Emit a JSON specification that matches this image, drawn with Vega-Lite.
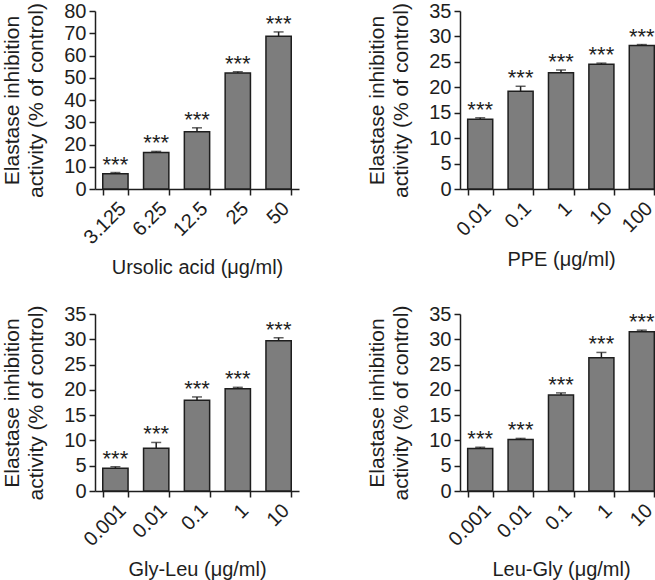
{
  "$schema": "https://vega.github.io/schema/vega-lite/v6.json",
  "background": "white",
  "padding": {"left": 1, "top": 1, "right": 0, "bottom": 1},
  "datasets": {
    "bars": [
      {"panel": "ua", "dose": "3.125", "value": 6.9, "upper": 7.4},
      {"panel": "ua", "dose": "6.25", "value": 16.4, "upper": 16.9},
      {"panel": "ua", "dose": "12.5", "value": 25.7, "upper": 27.5},
      {"panel": "ua", "dose": "25", "value": 52.1, "upper": 52.7},
      {"panel": "ua", "dose": "50", "value": 68.6, "upper": 70.6},
      {"panel": "ppe", "dose": "0.01", "value": 13.7, "upper": 14.0},
      {"panel": "ppe", "dose": "0.1", "value": 19.2, "upper": 20.2},
      {"panel": "ppe", "dose": "1", "value": 22.85, "upper": 23.4},
      {"panel": "ppe", "dose": "10", "value": 24.55, "upper": 24.75},
      {"panel": "ppe", "dose": "100", "value": 28.2, "upper": 28.4},
      {"panel": "gl", "dose": "0.001", "value": 4.5, "upper": 4.8},
      {"panel": "gl", "dose": "0.01", "value": 8.45, "upper": 9.6},
      {"panel": "gl", "dose": "0.1", "value": 17.95, "upper": 18.6},
      {"panel": "gl", "dose": "1", "value": 20.2, "upper": 20.5},
      {"panel": "gl", "dose": "10", "value": 29.7, "upper": 30.3},
      {"panel": "lg", "dose": "0.001", "value": 8.4, "upper": 8.65},
      {"panel": "lg", "dose": "0.01", "value": 10.2, "upper": 10.4},
      {"panel": "lg", "dose": "0.1", "value": 19.0, "upper": 19.4},
      {"panel": "lg", "dose": "1", "value": 26.35, "upper": 27.4},
      {"panel": "lg", "dose": "10", "value": 31.5, "upper": 31.8}
    ]
  },
  "columns": 2,
  "spacing": {"row": 26, "column": 67},
  "concat": [
    {
      "width": 204,
      "height": 178,
      "data": {"name": "bars"},
      "transform": [{"filter": "datum.panel === 'ua'"}],
      "encoding": {
        "x": {"field": "dose", "type": "ordinal", "sort": null, "title": "Ursolic acid (μg/ml)",
              "scale": {"paddingInner": 0.38, "paddingOuter": 0.19}}
      },
      "layer": [
        {
          "mark": {"type": "bar", "fill": "#7d7d7d", "stroke": "#1e1e1e", "strokeWidth": 1.5},
          "encoding": {
            "y": {"field": "value", "type": "quantitative", "scale": {"domain": [0, 80], "nice": false},
                  "axis": {"values": [0, 10, 20, 30, 40, 50, 60, 70, 80], "tickCount": 9, "labelOverlap": false,
                           "title": ["Elastase inhibition", "activity (% of control)"]}}
          }
        },
        {
          "mark": {"type": "rule", "stroke": "#1e1e1e", "strokeWidth": 1.5},
          "encoding": {
            "y": {"field": "value", "type": "quantitative",
                  "axis": {"values": [0, 10, 20, 30, 40, 50, 60, 70, 80], "tickCount": 9, "labelOverlap": false,
                           "title": ["Elastase inhibition", "activity (% of control)"]}},
            "y2": {"field": "upper"}
          }
        },
        {
          "mark": {"type": "tick", "color": "#1e1e1e", "size": 10, "thickness": 1.5},
          "encoding": {
            "y": {"field": "upper", "type": "quantitative",
                  "axis": {"values": [0, 10, 20, 30, 40, 50, 60, 70, 80], "tickCount": 9, "labelOverlap": false,
                           "title": ["Elastase inhibition", "activity (% of control)"]}}
          }
        },
        {
          "mark": {"type": "text", "text": "***", "baseline": "alphabetic", "dy": -1, "fontSize": 22, "color": "#1e1e1e"},
          "encoding": {
            "y": {"field": "upper", "type": "quantitative",
                  "axis": {"values": [0, 10, 20, 30, 40, 50, 60, 70, 80], "tickCount": 9, "labelOverlap": false,
                           "title": ["Elastase inhibition", "activity (% of control)"]}}
          }
        }
      ]
    },
    {
      "width": 202,
      "height": 178,
      "data": {"name": "bars"},
      "transform": [{"filter": "datum.panel === 'ppe'"}],
      "encoding": {
        "x": {"field": "dose", "type": "ordinal", "sort": null, "title": "PPE (μg/ml)",
              "scale": {"paddingInner": 0.38, "paddingOuter": 0.19}}
      },
      "layer": [
        {
          "mark": {"type": "bar", "fill": "#7d7d7d", "stroke": "#1e1e1e", "strokeWidth": 1.5},
          "encoding": {
            "y": {"field": "value", "type": "quantitative", "scale": {"domain": [0, 35], "nice": false},
                  "axis": {"values": [0, 5, 10, 15, 20, 25, 30, 35], "tickCount": 8, "labelOverlap": false,
                           "title": ["Elastase inhibition", "activity (% of control)"]}}
          }
        },
        {
          "mark": {"type": "rule", "stroke": "#1e1e1e", "strokeWidth": 1.5},
          "encoding": {
            "y": {"field": "value", "type": "quantitative",
                  "axis": {"values": [0, 5, 10, 15, 20, 25, 30, 35], "tickCount": 8, "labelOverlap": false,
                           "title": ["Elastase inhibition", "activity (% of control)"]}},
            "y2": {"field": "upper"}
          }
        },
        {
          "mark": {"type": "tick", "color": "#1e1e1e", "size": 10, "thickness": 1.5},
          "encoding": {
            "y": {"field": "upper", "type": "quantitative",
                  "axis": {"values": [0, 5, 10, 15, 20, 25, 30, 35], "tickCount": 8, "labelOverlap": false,
                           "title": ["Elastase inhibition", "activity (% of control)"]}}
          }
        },
        {
          "mark": {"type": "text", "text": "***", "baseline": "alphabetic", "dy": -1, "fontSize": 22, "color": "#1e1e1e"},
          "encoding": {
            "y": {"field": "upper", "type": "quantitative",
                  "axis": {"values": [0, 5, 10, 15, 20, 25, 30, 35], "tickCount": 8, "labelOverlap": false,
                           "title": ["Elastase inhibition", "activity (% of control)"]}}
          }
        }
      ]
    },
    {
      "width": 204,
      "height": 177,
      "data": {"name": "bars"},
      "transform": [{"filter": "datum.panel === 'gl'"}],
      "encoding": {
        "x": {"field": "dose", "type": "ordinal", "sort": null, "title": "Gly-Leu (μg/ml)",
              "scale": {"paddingInner": 0.38, "paddingOuter": 0.19}}
      },
      "layer": [
        {
          "mark": {"type": "bar", "fill": "#7d7d7d", "stroke": "#1e1e1e", "strokeWidth": 1.5},
          "encoding": {
            "y": {"field": "value", "type": "quantitative", "scale": {"domain": [0, 35], "nice": false},
                  "axis": {"values": [0, 5, 10, 15, 20, 25, 30, 35], "tickCount": 8, "labelOverlap": false,
                           "title": ["Elastase inhibition", "activity (% of control)"]}}
          }
        },
        {
          "mark": {"type": "rule", "stroke": "#1e1e1e", "strokeWidth": 1.5},
          "encoding": {
            "y": {"field": "value", "type": "quantitative",
                  "axis": {"values": [0, 5, 10, 15, 20, 25, 30, 35], "tickCount": 8, "labelOverlap": false,
                           "title": ["Elastase inhibition", "activity (% of control)"]}},
            "y2": {"field": "upper"}
          }
        },
        {
          "mark": {"type": "tick", "color": "#1e1e1e", "size": 10, "thickness": 1.5},
          "encoding": {
            "y": {"field": "upper", "type": "quantitative",
                  "axis": {"values": [0, 5, 10, 15, 20, 25, 30, 35], "tickCount": 8, "labelOverlap": false,
                           "title": ["Elastase inhibition", "activity (% of control)"]}}
          }
        },
        {
          "mark": {"type": "text", "text": "***", "baseline": "alphabetic", "dy": -1, "fontSize": 22, "color": "#1e1e1e"},
          "encoding": {
            "y": {"field": "upper", "type": "quantitative",
                  "axis": {"values": [0, 5, 10, 15, 20, 25, 30, 35], "tickCount": 8, "labelOverlap": false,
                           "title": ["Elastase inhibition", "activity (% of control)"]}}
          }
        }
      ]
    },
    {
      "width": 202,
      "height": 177,
      "data": {"name": "bars"},
      "transform": [{"filter": "datum.panel === 'lg'"}],
      "encoding": {
        "x": {"field": "dose", "type": "ordinal", "sort": null, "title": "Leu-Gly (μg/ml)",
              "scale": {"paddingInner": 0.38, "paddingOuter": 0.19}}
      },
      "layer": [
        {
          "mark": {"type": "bar", "fill": "#7d7d7d", "stroke": "#1e1e1e", "strokeWidth": 1.5},
          "encoding": {
            "y": {"field": "value", "type": "quantitative", "scale": {"domain": [0, 35], "nice": false},
                  "axis": {"values": [0, 5, 10, 15, 20, 25, 30, 35], "tickCount": 8, "labelOverlap": false,
                           "title": ["Elastase inhibition", "activity (% of control)"]}}
          }
        },
        {
          "mark": {"type": "rule", "stroke": "#1e1e1e", "strokeWidth": 1.5},
          "encoding": {
            "y": {"field": "value", "type": "quantitative",
                  "axis": {"values": [0, 5, 10, 15, 20, 25, 30, 35], "tickCount": 8, "labelOverlap": false,
                           "title": ["Elastase inhibition", "activity (% of control)"]}},
            "y2": {"field": "upper"}
          }
        },
        {
          "mark": {"type": "tick", "color": "#1e1e1e", "size": 10, "thickness": 1.5},
          "encoding": {
            "y": {"field": "upper", "type": "quantitative",
                  "axis": {"values": [0, 5, 10, 15, 20, 25, 30, 35], "tickCount": 8, "labelOverlap": false,
                           "title": ["Elastase inhibition", "activity (% of control)"]}}
          }
        },
        {
          "mark": {"type": "text", "text": "***", "baseline": "alphabetic", "dy": -1, "fontSize": 22, "color": "#1e1e1e"},
          "encoding": {
            "y": {"field": "upper", "type": "quantitative",
                  "axis": {"values": [0, 5, 10, 15, 20, 25, 30, 35], "tickCount": 8, "labelOverlap": false,
                           "title": ["Elastase inhibition", "activity (% of control)"]}}
          }
        }
      ]
    }
  ],
  "config": {
    "font": "Liberation Sans",
    "view": {"stroke": null},
    "axis": {
      "grid": false,
      "domainColor": "#1e1e1e",
      "domainWidth": 1.5,
      "tickColor": "#1e1e1e",
      "tickWidth": 1.5,
      "tickSize": 6,
      "labelFontSize": 20,
      "labelColor": "#1e1e1e",
      "labelPadding": 3,
      "labelOverlap": false,
      "titleFontSize": 20,
      "titleFontWeight": "normal",
      "titleColor": "#1e1e1e",
      "titleLineHeight": 24
    },
    "axisX": {
      "labelAngle": -45,
      "labelAlign": "right",
      "labelBaseline": "top",
      "tickBand": "extent",
      "titlePadding": 10
    },
    "axisY": {
      "titleFontSize": 21,
      "titlePadding": 17
    }
  }
}
